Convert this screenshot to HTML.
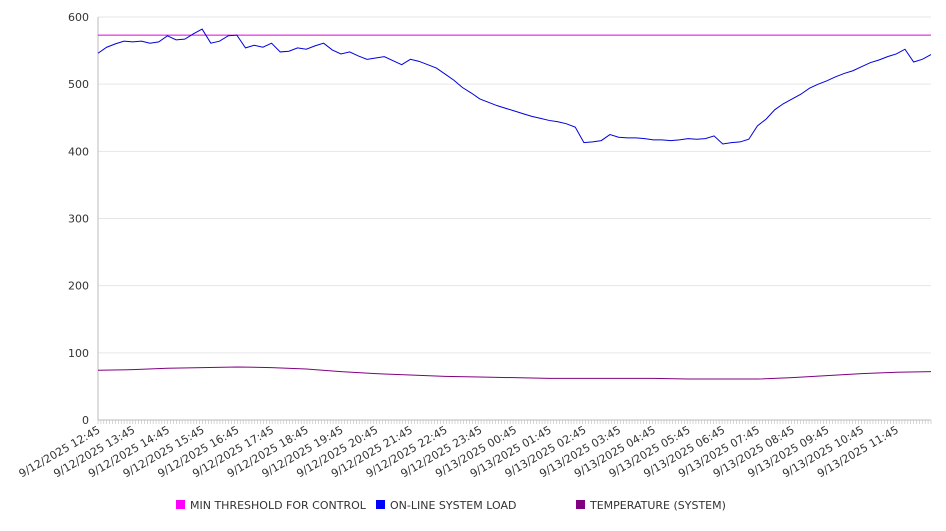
<!DOCTYPE html>
<html><head><meta charset="utf-8"><style>
body{margin:0;background:#fff;font-family:"Liberation Sans","DejaVu Sans",sans-serif;}
svg text{font-family:"DejaVu Sans","Liberation Sans",sans-serif;font-size:11px;fill:#333;}
</style></head><body>
<svg id="chart" width="946" height="526" xmlns="http://www.w3.org/2000/svg"></svg>
<script>
const xLabels=["9/12/2025 12:45","9/12/2025 13:45","9/12/2025 14:45","9/12/2025 15:45","9/12/2025 16:45","9/12/2025 17:45","9/12/2025 18:45","9/12/2025 19:45","9/12/2025 20:45","9/12/2025 21:45","9/12/2025 22:45","9/12/2025 23:45","9/13/2025 00:45","9/13/2025 01:45","9/13/2025 02:45","9/13/2025 03:45","9/13/2025 04:45","9/13/2025 05:45","9/13/2025 06:45","9/13/2025 07:45","9/13/2025 08:45","9/13/2025 09:45","9/13/2025 10:45","9/13/2025 11:45"];
const yTicks=[0,100,200,300,400,500,600];
const threshold=573;
const loadValues=[546,555,560,564,563,564,561,563,572,566,567,575,582,561,564,572,573,554,558,555,561,548,549,554,552,557,561,551,545,548,542,537,539,541,535,529,537,534,529,524,515,506,495,487,478,473,468,464,460,456,452,449,446,444,441,436,413,414,416,425,421,420,420,419,417,417,416,417,419,418,419,423,411,413,414,418,438,448,462,471,478,485,494,500,505,511,516,520,526,532,536,541,545,552,533,537,544];
const tempValues=[74,75,77,78,79,78,76,72,69,67,65,64,63,62,62,62,62,61,61,61,63,66,69,71,72];
const NS="http://www.w3.org/2000/svg";
const svg=document.getElementById('chart');
const X0=98,X1=931,Y0=420,Y1=17;
const y=v=>Y0-(v/600)*(Y0-Y1);
const xLoad=i=>X0+i*(X1-X0)/(loadValues.length-1);
const xTemp=i=>X0+i*(X1-X0)/(tempValues.length-1);
const xLab=i=>X0+i*(X1-X0)/24;
function mk(t,a,p){const e=document.createElementNS(NS,t);for(const k in a)e.setAttribute(k,a[k]);(p||svg).appendChild(e);return e;}
yTicks.forEach(v=>{
 const g=mk('line',{x1:X0,x2:X1,y1:y(v),y2:y(v),stroke:v===0?'#bbb':'#e6e6e6','stroke-width':1});
 
 
 const t=mk('text',{x:89,y:y(v)+4,'text-anchor':'end'});t.textContent=v;
 
 
});
const ax=mk('line',{x1:X0,x2:X0,y1:Y1,y2:Y0,stroke:'#bbb'});


for(let i=0;i<=287;i++){const xx=X0+i*(X1-X0)/287;
 const tk=mk('line',{x1:xx,x2:xx,y1:Y0,y2:Y0+4,stroke:'#bbb','stroke-width':0.6});
 
 }
xLabels.forEach((l,i)=>{
 const t=mk('text',{x:0,y:0,'text-anchor':'end',transform:`translate(${xLab(i)+3},${Y0+12}) rotate(-30)`});t.textContent=l;
 
 
});
const th=mk('line',{x1:X0,x2:X1,y1:y(threshold),y2:y(threshold),stroke:'#e000e0','stroke-width':1});


const lp=mk('polyline',{points:loadValues.map((v,i)=>xLoad(i)+','+y(v)).join(' '),fill:'none',stroke:'#0000dd','stroke-width':1});


const tp=mk('polyline',{points:tempValues.map((v,i)=>xTemp(i)+','+y(v)).join(' '),fill:'none',stroke:'#800080','stroke-width':1});


[["MIN THRESHOLD FOR CONTROL","#ff00ff",176],["ON-LINE SYSTEM LOAD","#0000ff",376],["TEMPERATURE (SYSTEM)","#800080",576]].forEach(([n,c,x])=>{
 const g=mk('g',{});
 
 
 mk('rect',{x:x,y:500,width:9,height:9,fill:c},g);
 const t=mk('text',{x:x+14,y:509},g);t.textContent=n;
});
</script>
</body></html>
